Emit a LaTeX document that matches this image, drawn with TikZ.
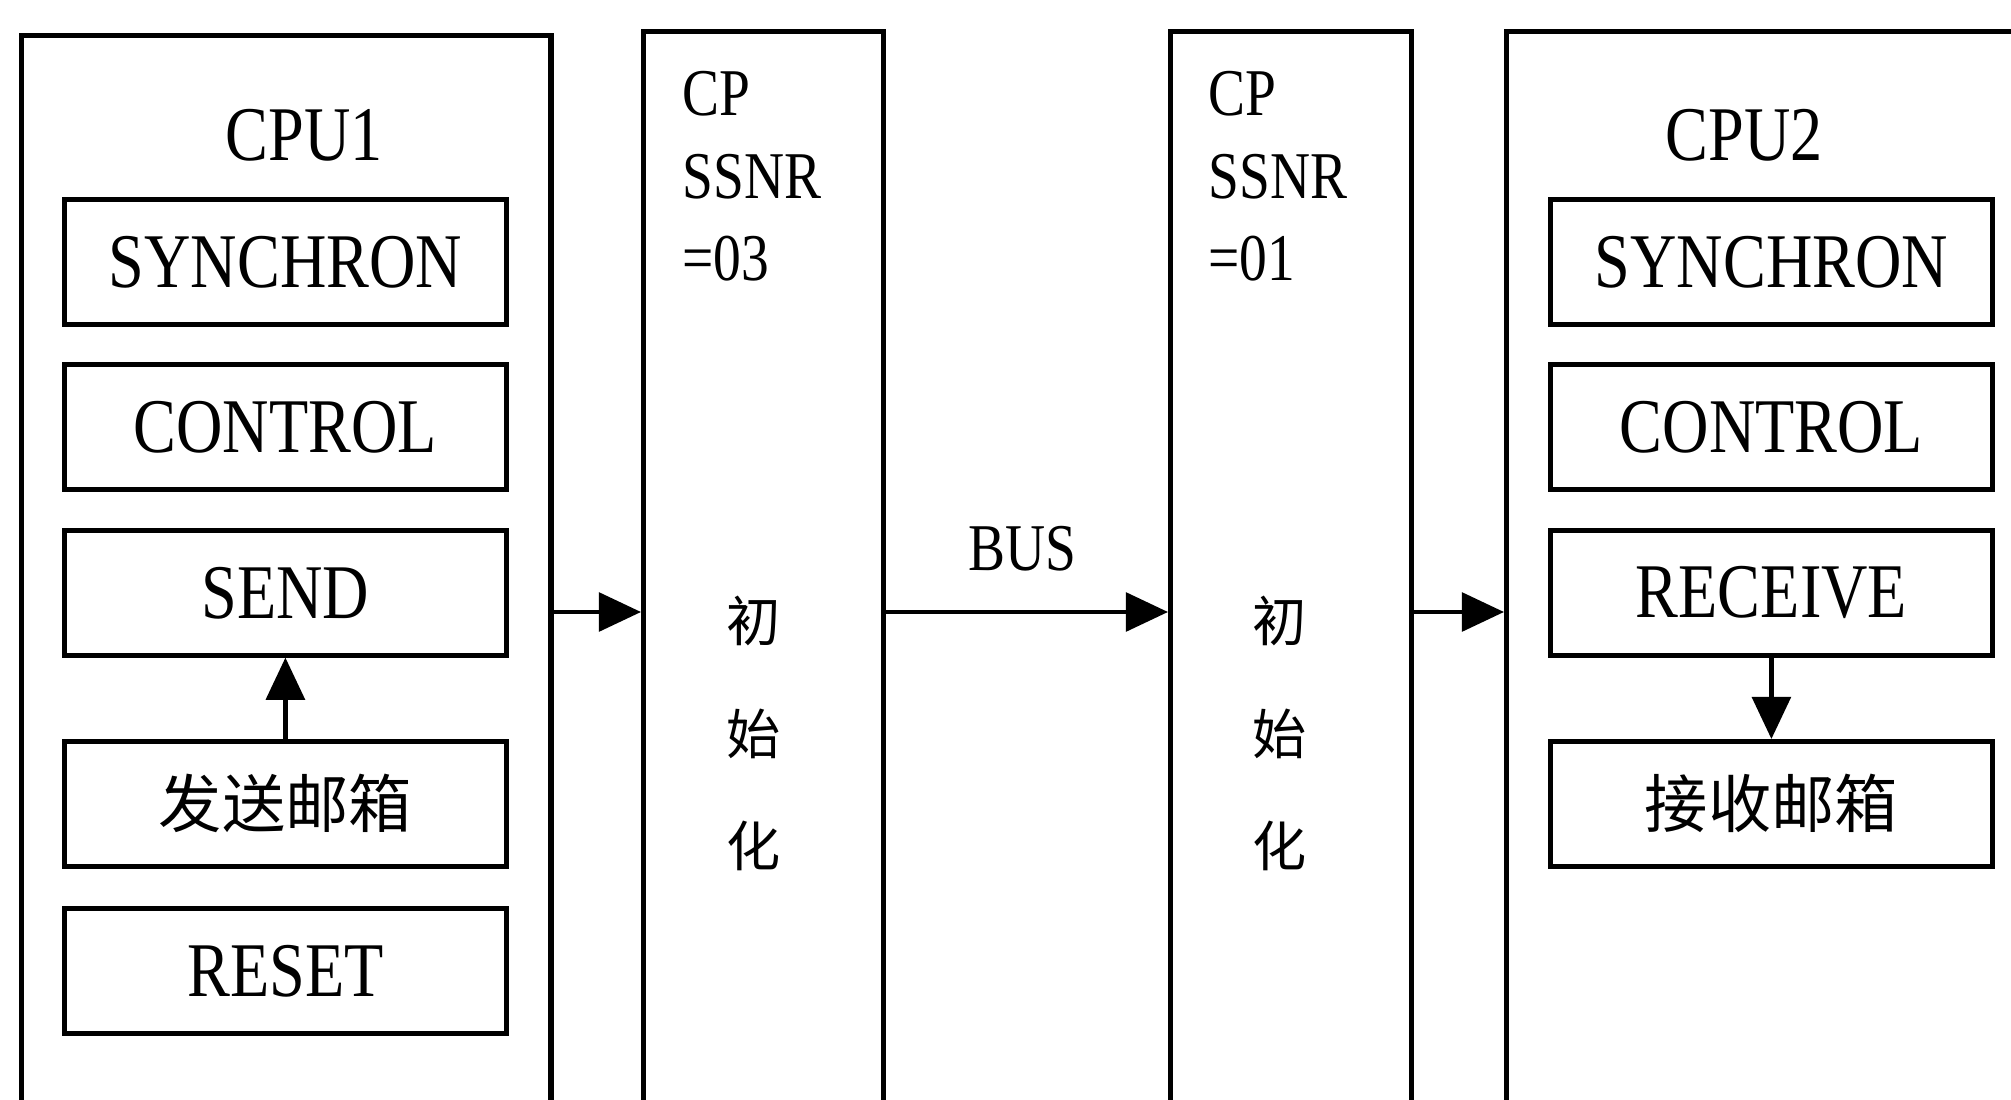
\documentclass[tikz,border=0pt]{standalone}
\usepackage{fontspec}
\setmainfont{Liberation Serif}[FakeStretch=0.83]
\newfontfamily\cjk{Noto Sans CJK SC}
\usetikzlibrary{arrows.meta}
\tikzset{
  outerbox/.style={draw, line width=1.5pt, anchor=north west, inner sep=0pt, minimum height=108.7mm},
  innerbox/.style={draw, line width=1.3pt, anchor=north west, inner sep=0pt, minimum width=44.2mm, minimum height=12.5mm},
  lbl/.style={inner sep=0pt, font=\fontsize{22pt}{26pt}\selectfont},
  cptxt/.style={inner sep=0pt, anchor=west, font=\fontsize{19pt}{22pt}\selectfont},
  cjkbig/.style={inner sep=0pt, font=\cjk\fontsize{18pt}{22pt}\selectfont},
  cjksmall/.style={inner sep=0pt, font=\cjk\fontsize{15.4pt}{18pt}\selectfont},
  arr/.style={line width=1.2pt, -{Triangle[length=12pt,width=11pt]}},
}
\begin{document}
\begin{tikzpicture}[x=0.01cm, y=-0.01cm]
\useasboundingbox (0,0) rectangle (2011,1100);
\clip (0,0) rectangle (2011,1100);

% outer columns
\node[outerbox, minimum width=52.9mm] (cpu1) at (19,33) {};
\node[outerbox, minimum width=24.0mm] (cp3) at (641,29) {};
\node[outerbox, minimum width=24.1mm] (cp1) at (1168,29) {};
\node[outerbox, minimum width=60mm] (cpu2) at (1504,29) {};

% CPU1
\node[lbl] (cpu1lbl) at (304,135) {CPU1};
\node[innerbox] (sync1) at (62,197) {};
\node[lbl] (sync1t) at (sync1.center) {SYNCHRON};
\node[innerbox] (ctrl1) at (62,362) {};
\node[lbl] (ctrl1t) at (ctrl1.center) {CONTROL};
\node[innerbox] (send) at (62,528) {};
\node[lbl] (sendt) at (send.center) {SEND};
\node[innerbox] (sbox) at (62,739) {};
\node[cjkbig] (sboxt) at (sbox.center) {发送邮箱};
\node[innerbox] (reset) at (62,906) {};
\node[lbl] (resett) at (reset.center) {RESET};

% CP columns text
\node[cptxt] (cp3a) at (682,94) {CP};
\node[cptxt] (cp3b) at (682,177) {SSNR};
\node[cptxt] (cp3c) at (682,259) {=03};
\node[cjksmall] (cp3d) at (754,621) {初};
\node[cjksmall] (cp3e) at (754,734) {始};
\node[cjksmall] (cp3f) at (754,846) {化};

\node[cptxt] (cp1a) at (1208,94) {CP};
\node[cptxt] (cp1b) at (1208,177) {SSNR};
\node[cptxt] (cp1c) at (1208,259) {=01};
\node[cjksmall] (cp1d) at (1280,621) {初};
\node[cjksmall] (cp1e) at (1280,734) {始};
\node[cjksmall] (cp1f) at (1280,846) {化};

\node[cptxt, anchor=center] (bus) at (1022,549) {BUS};

% CPU2
\node[lbl] (cpu2lbl) at (1744,135) {CPU2};
\node[innerbox] (sync2) at (1548,197) {};
\node[lbl] (sync2t) at (sync2.center) {SYNCHRON};
\node[innerbox] (ctrl2) at (1548,362) {};
\node[lbl] (ctrl2t) at (ctrl2.center) {CONTROL};
\node[innerbox] (recv) at (1548,528) {};
\node[lbl] (recvt) at (recv.center) {RECEIVE};
\node[innerbox] (rbox) at (1548,739) {};
\node[cjkbig] (rboxt) at (rbox.center) {接收邮箱};

% connectors
\coordinate (ay) at (0,612);
\draw[arr] (cpu1.east |- ay) -- (cp3.west |- ay);
\draw[arr] (cp3.east |- ay) -- (cp1.west |- ay);
\draw[arr] (cp1.east |- ay) -- (cpu2.west |- ay);
\draw[arr] (sbox.north) -- (send.south);
\draw[arr] (recv.south) -- (rbox.north);
\end{tikzpicture}
\end{document}
